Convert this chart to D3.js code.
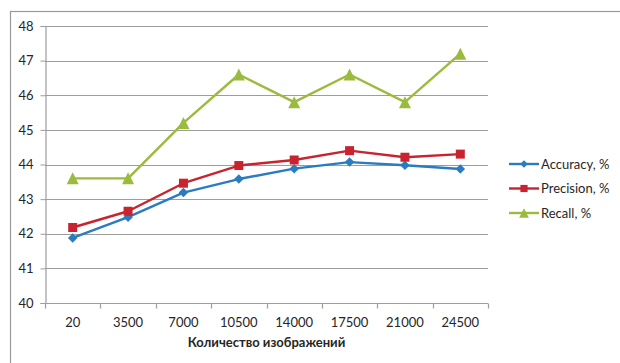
<!DOCTYPE html>
<html>
<head>
<meta charset="utf-8">
<script src="https://cdn.jsdelivr.net/npm/d3@7"></script>
<style>
  html, body { margin: 0; padding: 0; background: #fff; }
  svg { display: block; }
  text { font-family: Lato, "Open Sans", sans-serif; fill: #262626; }
</style>
</head>
<body>
<svg id="chart" width="620" height="363"></svg>
<script>
// Number of training images
const categories = ["20", "3500", "7000", "10500", "14000", "17500", "21000", "24500"];

const accuracy  = [41.88, 42.48, 43.19, 43.58, 43.88, 44.07, 43.98, 43.87];
const precision = [42.18, 42.65, 43.46, 43.97, 44.13, 44.40, 44.21, 44.30];
const recall    = [43.6, 43.6, 45.2, 46.6, 45.8, 46.6, 45.8, 47.2];

const seriesNames = ["Accuracy, %", "Precision, %", "Recall, %"];
const yTicks = [40, 41, 42, 43, 44, 45, 46, 47, 48];
const xTitle = "Количество изображений";

const series = [
  { name: seriesNames[0], values: accuracy,  color: "#2b7bc1", marker: "diamond" },
  { name: seriesNames[1], values: precision, color: "#c8232f", marker: "square" },
  { name: seriesNames[2], values: recall,    color: "#9bbb3c", marker: "triangle" }
];

const svg = d3.select("#chart");
const plot = { left: 45, right: 488, top: 26, bottom: 303 };
const fontSize = "13px";

// Outer chart frame (runs off the right and bottom edges)
svg.append("rect")
  .attr("x", 10.5).attr("y", 11.5)
  .attr("width", 640).attr("height", 400)
  .attr("fill", "none").attr("stroke", "#9a9a9a").attr("stroke-width", 1.2);

const x = d3.scaleBand().domain(categories).range([plot.left, plot.right]).padding(0);
const y = d3.scaleLinear().domain([40, 48]).range([plot.bottom, plot.top]);

// Horizontal gridlines
svg.append("g").selectAll("line")
  .data(yTicks.filter(t => t > 40))
  .join("line")
  .attr("x1", plot.left).attr("x2", plot.right)
  .attr("y1", d => Math.round(y(d)) + 0.5).attr("y2", d => Math.round(y(d)) + 0.5)
  .attr("stroke", "#9d9d9d").attr("stroke-width", 1.2);

// Y axis
const yAxis = svg.append("g")
  .attr("transform", `translate(${plot.left + 0.5},0)`)
  .call(d3.axisLeft(y).tickValues(yTicks).tickSize(5).tickPadding(7).tickFormat(d3.format("d")));
yAxis.select(".domain").attr("stroke", "#9d9d9d").attr("stroke-width", 1.2);
yAxis.selectAll(".tick line").attr("stroke", "#9d9d9d");
yAxis.selectAll(".tick text").style("font-size", fontSize).style("font-family", "Lato, sans-serif").attr("fill", "#262626");

// X axis with ticks at category boundaries
const xAxisG = svg.append("g")
  .attr("transform", `translate(0,${plot.bottom + 0.5})`);
xAxisG.append("line")
  .attr("x1", plot.left).attr("x2", plot.right)
  .attr("stroke", "#9d9d9d").attr("stroke-width", 1.2);
const boundaries = categories.map(c => x(c)).concat([x(categories[categories.length - 1]) + x.bandwidth()]);
xAxisG.selectAll("line.tk")
  .data(boundaries)
  .join("line").attr("class", "tk")
  .attr("x1", d => Math.round(d) + 0.5).attr("x2", d => Math.round(d) + 0.5)
  .attr("y1", 0).attr("y2", 5)
  .attr("stroke", "#9d9d9d").attr("stroke-width", 1.2);
xAxisG.selectAll("text")
  .data(categories)
  .join("text")
  .attr("x", d => x(d) + x.bandwidth() / 2)
  .attr("y", 23)
  .attr("text-anchor", "middle")
  .style("font-size", fontSize)
  .text(d => d);

// X axis title
svg.append("text")
  .attr("x", (plot.left + plot.right) / 2)
  .attr("y", 347)
  .attr("text-anchor", "middle")
  .style("font-size", fontSize)
  .style("font-weight", "bold")
  .text(xTitle);

const cx = (d, i) => x(categories[i]) + x.bandwidth() / 2;

// Marker shapes, each centred on its bounding box
function markerPath(type, s) {
  const h = s / 2;
  if (type === "diamond") return `M0,${-h}L${h},0L0,${h}L${-h},0Z`;
  if (type === "square") return `M${-h},${-h}H${h}V${h}H${-h}Z`;
  return `M0,${-h}L${h},${h}L${-h},${h}Z`;
}
const markerSize = { diamond: 9.5, square: 9, triangle: 12 };

const line = d3.line().x(cx).y(d => y(d));

series.forEach(s => {
  const g = svg.append("g");
  g.append("path")
    .datum(s.values)
    .attr("d", line)
    .attr("fill", "none")
    .attr("stroke", s.color)
    .attr("stroke-width", 2.4)
    .attr("stroke-linejoin", "round");
  g.selectAll("path.mk")
    .data(s.values)
    .join("path").attr("class", "mk")
    .attr("d", markerPath(s.marker, markerSize[s.marker]))
    .attr("transform", (d, i) => `translate(${cx(d, i)},${y(d)})`)
    .attr("fill", s.color);
});

// Legend
const legend = svg.append("g").attr("transform", "translate(509,164)");
series.forEach((s, i) => {
  const row = legend.append("g").attr("transform", `translate(0,${i * 24.5})`);
  row.append("line")
    .attr("x1", 0).attr("x2", 30).attr("y1", 0).attr("y2", 0)
    .attr("stroke", s.color).attr("stroke-width", 2.4);
  row.append("path")
    .attr("d", markerPath(s.marker, markerSize[s.marker] * 0.8))
    .attr("transform", "translate(15,0)")
    .attr("fill", s.color);
  row.append("text")
    .attr("x", 32).attr("y", 4.5)
    .style("font-size", fontSize)
    .text(s.name);
});
</script>
</body>
</html>
